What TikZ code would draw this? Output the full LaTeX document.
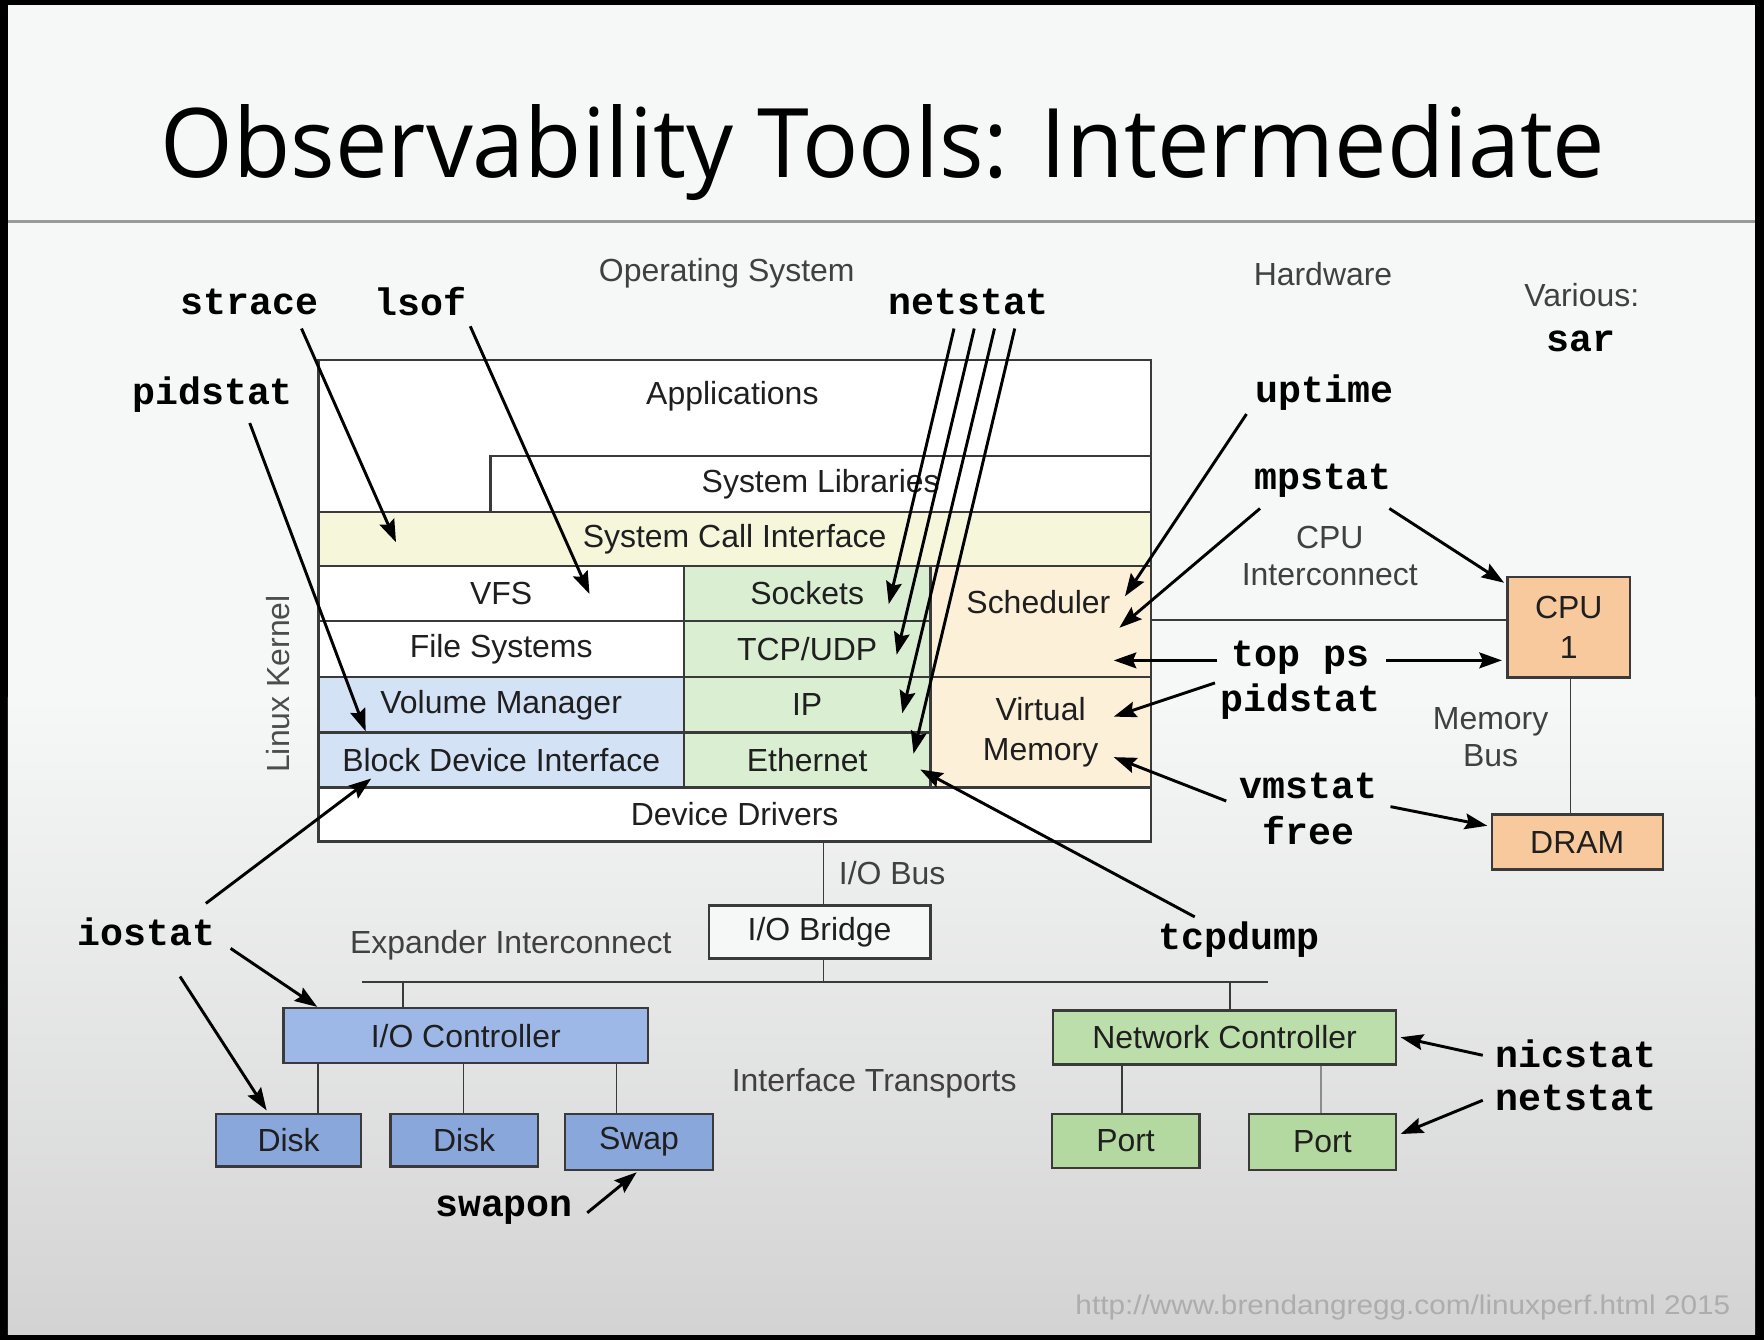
\documentclass[tikz,border=0pt]{standalone}
\usepackage{fontspec}
\usepackage{graphicx}
\setmainfont{Liberation Sans}
\setmonofont{Liberation Mono}
\newfontfamily\titlefont{Open Sans}
\usetikzlibrary{arrows.meta,fit}
\definecolor{slide}{HTML}{F6F8F7}
\definecolor{slidebot}{HTML}{D3D3D3}
\definecolor{sepc}{HTML}{9A9A9A}
\definecolor{linec}{HTML}{3A3A3A}
\definecolor{yel}{HTML}{F6F6DA}
\definecolor{lblue}{HTML}{D4E2F6}
\definecolor{lgreen}{HTML}{DAEED2}
\definecolor{lorange}{HTML}{FCF0D8}
\definecolor{ioblue}{HTML}{9DB8E6}
\definecolor{diskblue}{HTML}{8AA7DC}
\definecolor{ncgreen}{HTML}{BCDEAB}
\definecolor{portgreen}{HTML}{B3D8A0}
\definecolor{cpuor}{HTML}{F7C99C}
\definecolor{urlc}{HTML}{ADADAD}
\newcommand{\labfont}{\fontsize{14.2}{16.6}\selectfont}
\newcommand{\toolfont}{\ttfamily\bfseries\fontsize{17}{19.5}\selectfont}
\begin{document}
\begin{tikzpicture}[x=0.5pt,y=-0.5pt,
  layer/.style={draw=linec, line width=1pt, inner sep=0pt},
  hw/.style={layer, line width=1.1pt},
  lab/.style={inner sep=0pt, font=\labfont, text=black!88, align=center},
  txt/.style={label={[lab]center:{#1}}},
  tool/.style={inner sep=0pt, font=\toolfont},
  wire/.style={draw=linec, line width=0.8pt},
  arr/.style={-{Stealth[length=10pt,width=7pt,inset=1.5pt]}, line width=1.3pt}]
% frame and slide background
\fill[black] (0,0) rectangle (1568,1191);
\fill[slide] (7,4) rectangle (1560,1186);
\shade[top color=slide, bottom color=slidebot] (7,620) rectangle (1560,1186);
\draw[sepc, line width=1.5pt] (7,197) -- (1560,197);
\useasboundingbox (0,0) rectangle (1568,1191);
% title
\node[anchor=base, inner sep=0pt] (title) at (785,158)
  {\resizebox{642pt}{\height}{\titlefont\fontsize{42.7}{48}\selectfont Observability Tools: Intermediate}};
% headings
\node[lab, text=black!75] (os) at (646,243) {Operating System};
\node[lab, text=black!75] (hwl) at (1176,244) {Hardware};
\node[lab, text=black!75] (various) at (1406,262) {Various:};
\node[tool] (sar) at (1405,303) {sar};
% software stack
\node[layer, fill=white, fit={(283,320) (1023,455)}] (apps) {};
\node[lab] (appsl) at (651,352) {Applications};
\node[layer, fill=white, fit={(436,405) (1023,455)}, txt=System Libraries] (syslib) {};
\node[layer, fill=yel, fit={(283,455) (1023,503)}, txt=System Call Interface] (sci) {};
\node[layer, fill=white, fit={(283,503) (608,552)}, txt=VFS] (vfs) {};
\node[layer, fill=white, fit={(283,552) (608,602)}, txt=File Systems] (fs) {};
\node[layer, fill=lblue, fit={(283,602) (608,651)}, txt=Volume Manager] (volm) {};
\node[layer, fill=lblue, fit={(283,651) (608,700)}, txt=Block Device Interface] (bdi) {};
\node[layer, fill=lgreen, fit={(608,503) (827,552)}, txt=Sockets] (sock) {};
\node[layer, fill=lgreen, fit={(608,552) (827,602)}, txt=TCP/UDP] (tcp) {};
\node[layer, fill=lgreen, fit={(608,602) (827,651)}, txt=IP] (ip) {};
\node[layer, fill=lgreen, fit={(608,651) (827,700)}, txt=Ethernet] (eth) {};
\node[layer, fill=lorange, fit={(827,503) (1023,602)}] (sched) {};
\node[lab] (schedl) at (923,535) {Scheduler};
\node[layer, fill=lorange, fit={(827,602) (1023,700)}, txt={Virtual\\[1pt]Memory}] (virt) {};
\node[layer, fill=white, fit={(283,700) (1023,748)}, txt=Device Drivers] (dd) {};
\node[lab, text=black!70, rotate=90] (lk) at (247,608) {Linux Kernel};
% hardware
\node[hw, fill=cpuor, fit={(1340,513) (1449,602)}, txt={CPU\\[1pt]1}] (cpu) {};
\node[hw, fill=cpuor, fit={(1326,724) (1478,773)}, txt=DRAM] (dram) {};
\node[hw, fill=slide, fit={(630,805) (827,852)}, txt=I/O Bridge] (iob) {};
\node[hw, fill=ioblue, fit={(252,896) (576,945)}, txt=I/O Controller] (ioc) {};
\node[hw, fill=diskblue, fit={(192,990) (321,1037)}, txt=Disk] (disk1) {};
\node[hw, fill=diskblue, fit={(347,990) (478,1037)}, txt=Disk] (disk2) {};
\node[hw, fill=diskblue, fit={(502,990) (634,1040)}, txt=Swap] (swap) {};
\node[hw, fill=ncgreen, fit={(936,898) (1241,946)}, txt=Network Controller] (nc) {};
\node[hw, fill=portgreen, fit={(935,990) (1066,1038)}, txt=Port] (port1) {};
\node[hw, fill=portgreen, fit={(1110,990) (1241,1040)}, txt=Port] (port2) {};
% buses
\coordinate (ici) at (1023,551);
\draw[wire] (ici) -- (ici -| cpu.west);
\draw[wire] (1396,0 |- cpu.south) -- (1396,0 |- dram.north);
\draw[wire] (732,0 |- dd.south) -- (732,0 |- iob.north);
\coordinate (exL) at (322,873);
\coordinate (exR) at (1127,873);
\draw[wire, line width=1pt] (exL) -- (exR);
\draw[wire] (732,0 |- iob.south) -- (732,0 |- exL);
\draw[wire] (358,0 |- exL) -- (358,0 |- ioc.north);
\draw[wire] (1093,0 |- exL) -- (1093,0 |- nc.north);
\draw[wire] (283,0 |- ioc.south) -- (283,0 |- disk1.north);
\draw[wire] (412,0 |- ioc.south) -- (412,0 |- disk2.north);
\draw[wire] (548,0 |- ioc.south) -- (548,0 |- swap.north);
\draw[wire] (997,0 |- nc.south) -- (997,0 |- port1.north);
\draw[wire, draw=black!45] (1174,0 |- nc.south) -- (1174,0 |- port2.north);
% other labels
\node[lab, text=black!75] (cpuic) at (1182,494) {CPU\\Interconnect};
\node[lab, text=black!75] (membus) at (1325,655) {Memory\\Bus};
\node[lab, text=black!75] (iobus) at (793,776) {I/O Bus};
\node[lab, text=black!75] (expi) at (454,840) {Expander Interconnect};
\node[lab, text=black!75] (ift) at (777,963) {Interface Transports};
\node[inner sep=0pt, text=urlc, font=\fontsize{12}{14}\selectfont] (url) at (1247,1162) {\resizebox{291pt}{\height}{http://www.brendangregg.com/linuxperf.html 2015}};
% tool labels
\node[tool] (strace) at (222,268) {strace};
\node[tool] (lsof) at (374,268) {lsof};
\node[tool] (netstatA) at (861,268) {netstat};
\node[tool] (pidstatA) at (189,351) {pidstat};
\node[tool] (uptime) at (1177,349) {uptime};
\node[tool] (mpstat) at (1176,427) {mpstat};
\node[tool] (topps) at (1156,585) {top ps};
\node[tool] (pidstatB) at (1156,624) {pidstat};
\node[tool] (vmstat) at (1163,699) {vmstat};
\node[tool] (free) at (1163,738) {free};
\node[tool] (iostat) at (130,828) {iostat};
\node[tool] (tcpdump) at (1101,835) {tcpdump};
\node[tool] (nicstat) at (1401,937) {nicstat};
\node[tool] (netstatB) at (1401,976) {netstat};
\node[tool] (swapon) at (448,1076) {swapon};
% arrow ends
\coordinate (a1t) at (268,292);  \coordinate (a1h) at (352,482);
\coordinate (a2t) at (418,290);  \coordinate (a2h) at (524,528);
\coordinate (a3t) at (848,292);  \coordinate (a3h) at (790,537);
\coordinate (a4t) at (866,292);  \coordinate (a4h) at (797,582);
\coordinate (a5t) at (884,292);  \coordinate (a5h) at (802,634);
\coordinate (a6t) at (902,292);  \coordinate (a6h) at (812,670);
\coordinate (a7t) at (222,376);  \coordinate (a7h) at (325,650);
\coordinate (a8t) at (1108,368); \coordinate (a8h) at (1000,530);
\coordinate (a9t) at (1120,452); \coordinate (a9h) at (995,558);
\coordinate (a10t) at (1235,452); \coordinate (a10h) at (1337,518);
\coordinate (a11t) at (1082,587); \coordinate (a11h) at (990,587);
\coordinate (a12t) at (1232,587); \coordinate (a12h) at (1335,587);
\coordinate (a13t) at (1080,607); \coordinate (a13h) at (990,637);
\coordinate (a14t) at (1090,712); \coordinate (a14h) at (990,673);
\coordinate (a15t) at (1236,717); \coordinate (a15h) at (1322,734);
\coordinate (a16t) at (1062,815); \coordinate (a16h) at (818,684);
\coordinate (a17t) at (183,803); \coordinate (a17h) at (330,692);
\coordinate (a18t) at (205,843); \coordinate (a18h) at (282,895);
\coordinate (a19t) at (160,868); \coordinate (a19h) at (237,987);
\coordinate (a20t) at (522,1078); \coordinate (a20h) at (566,1042);
\coordinate (a21t) at (1318,938); \coordinate (a21h) at (1245,922);
\coordinate (a22t) at (1318,978); \coordinate (a22h) at (1245,1008);
\foreach \i in {1,...,22} { \draw[arr] (a\i t) -- (a\i h); }
\end{tikzpicture}
\end{document}
